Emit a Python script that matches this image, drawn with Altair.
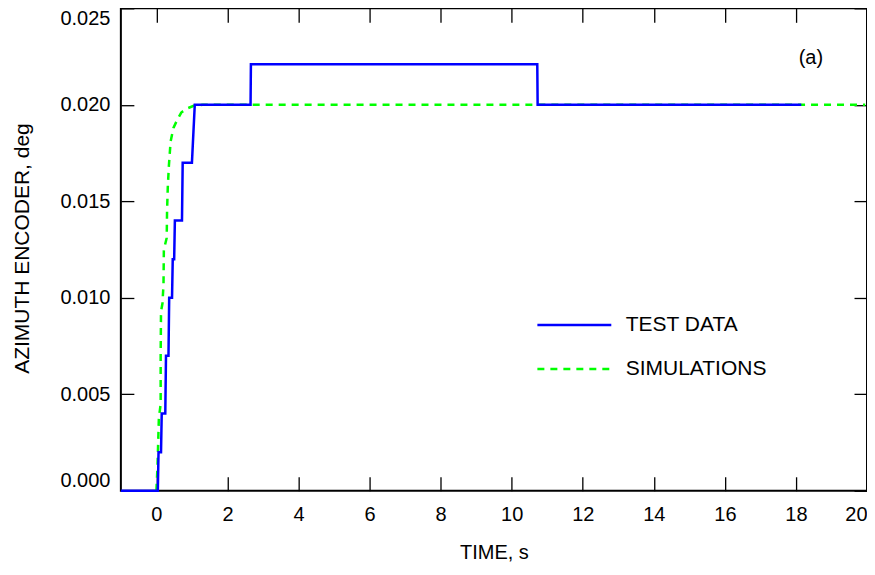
import altair as alt
import pandas as pd

# ---- data ----
series_names = ["TEST DATA", "SIMULATIONS"]
series_colors = ["#0000ff", "#00ff00"]

test_t = [-1.0, 0.04, 0.06, 0.13, 0.15, 0.25, 0.27, 0.34, 0.36, 0.44, 0.46, 0.50, 0.52,
          0.72, 0.74, 1.00, 1.08, 2.65, 2.66, 10.72, 10.73, 18.15]
test_v = [0.0, 0.0, 0.0020, 0.0020, 0.0040, 0.0040, 0.0070, 0.0070, 0.0100, 0.0100,
          0.0120, 0.0120, 0.0140, 0.0140, 0.0170, 0.0170, 0.0200, 0.0200, 0.0221,
          0.0221, 0.0200, 0.0200]

sim_t = [0.0, 0.03, 0.05, 0.07, 0.10, 0.12, 0.12, 0.13, 0.17, 0.20, 0.21, 0.25, 0.29,
         0.30, 0.32, 0.35, 0.40, 0.48, 0.58, 0.70, 0.85, 1.05, 1.30, 19.95]
sim_v = [0.0, 0.0012, 0.0025, 0.0038, 0.0042, 0.0045, 0.0070, 0.0093, 0.0097, 0.0107,
         0.0125, 0.0128, 0.0131, 0.0145, 0.0157, 0.0168, 0.0181, 0.0188, 0.0192,
         0.0196, 0.0198, 0.01995, 0.0200, 0.0200]

x_ticks = [0, 2, 4, 6, 8, 10, 12, 14, 16, 18, 20]
y_ticks = [0.0, 0.005, 0.010, 0.015, 0.020, 0.025]
x_domain = [-1, 20]
y_domain = [0.0, 0.025]

annotation = pd.DataFrame({"t": [18.42], "v": [0.0224], "label": ["(a)"]})

test_df = pd.DataFrame({"t": test_t, "v": test_v, "series": series_names[0],
                        "ord": range(len(test_t))})
sim_df = pd.DataFrame({"t": sim_t, "v": sim_v, "series": series_names[1],
                       "ord": range(len(sim_t))})

FONT = "Liberation Sans"

xscale = alt.Scale(domain=x_domain, nice=False, zero=False)
yscale = alt.Scale(domain=y_domain, nice=False, zero=False)

legend = alt.Legend(orient="none", legendX=415.5, legendY=306.5, title=None,
                    symbolType="stroke", symbolSize=74 * 74, symbolStrokeWidth=2.5,
                    labelFontSize=21, labelFont=FONT, labelColor="black",
                    labelOffset=13, clipHeight=21, rowPadding=22, padding=0,
                    labelLimit=400)
color = alt.Color("series:N", scale=alt.Scale(domain=series_names, range=series_colors),
                  legend=legend)
dash = alt.StrokeDash("series:N",
                      scale=alt.Scale(domain=series_names, range=[[1, 0], [7, 6]]),
                      legend=legend)

tick_common = dict(labels=False, domain=False, grid=False, ticks=True,
                   tickColor="black", tickWidth=1.3, title=None)

# simulations layer: carries the inward bottom/left ticks
sim_layer = alt.Chart(sim_df).mark_line(strokeWidth=2.5).encode(
    x=alt.X("t:Q", scale=xscale,
            axis=alt.Axis(values=x_ticks, orient="bottom", tickSize=14, offset=-14,
                          **tick_common)),
    y=alt.Y("v:Q", scale=yscale,
            axis=alt.Axis(values=y_ticks, orient="left", tickSize=13, offset=-13,
                          **tick_common)),
    color=color, strokeDash=dash, order="ord:Q",
)

# test data layer: carries labels and titles
test_layer = alt.Chart(test_df).mark_line(strokeWidth=2.5).encode(
    x=alt.X("t:Q", scale=xscale,
            axis=alt.Axis(values=x_ticks, orient="bottom", ticks=False, domain=False,
                          grid=False, labelFontSize=20, labelFont=FONT,
                          labelColor="black", labelPadding=14, labelFlush=True,
                          title="TIME, s", titleFont=FONT, titleFontSize=20,
                          titleFontWeight="normal", titleColor="black",
                          titleBaseline="alphabetic", titleY=68)),
    y=alt.Y("v:Q", scale=yscale,
            axis=alt.Axis(values=y_ticks, orient="left", format=".3f", ticks=False,
                          domain=False, grid=False, labelFontSize=20, labelFont=FONT,
                          labelColor="black", labelPadding=11, labelFlush=True,
                          title="AZIMUTH ENCODER, deg", titleFont=FONT,
                          titleFontSize=21, titleFontWeight="normal",
                          titleColor="black", titleBaseline="alphabetic",
                          titleX=-92.5, titleY=240)),
    color=color, strokeDash=dash, order="ord:Q",
)

# invisible layer: carries the inward top/right ticks
frame_layer = alt.Chart(test_df).mark_line(opacity=0).encode(
    x=alt.X("t:Q", scale=xscale,
            axis=alt.Axis(values=x_ticks, orient="top", tickSize=14, offset=-14,
                          **tick_common)),
    y=alt.Y("v:Q", scale=yscale,
            axis=alt.Axis(values=y_ticks, orient="right", tickSize=13, offset=-13,
                          **tick_common)),
    order="ord:Q",
)

text_layer = alt.Chart(annotation).mark_text(
    fontSize=20, font=FONT, color="black", baseline="middle", align="center"
).encode(
    x=alt.X("t:Q", scale=xscale, axis=None),
    y=alt.Y("v:Q", scale=yscale, axis=None),
    text="label:N",
)

chart = alt.layer(sim_layer, test_layer, frame_layer, text_layer).resolve_axis(
    x="independent", y="independent"
).properties(
    width=747, height=483,
    autosize=alt.AutoSizeParams(type="none"),
    padding={"left": 113, "top": 0, "right": 0, "bottom": 74},
).configure_view(stroke="black", strokeWidth=2)

chart.save("out.html", embed_options={"renderer": "svg", "actions": False})
